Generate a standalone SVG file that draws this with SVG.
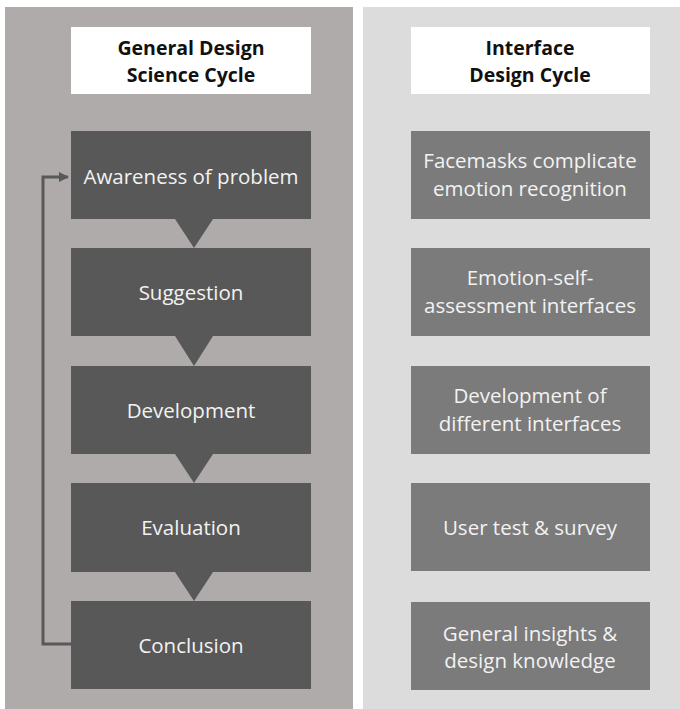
<svg xmlns="http://www.w3.org/2000/svg" width="680" height="709" viewBox="0 0 680 709">
  <style>
    .panel-l { fill: #aeabaa; }
    .panel-r { fill: #dcdcdc; }
    .title-box { fill: #ffffff; }
    .title { font-family: "Open Sans", "Liberation Sans", sans-serif; font-size: 19.5px; font-weight: bold; fill: #111111; text-anchor: middle; }
    .step { fill: #585858; }
    .phase { fill: #7b7b7b; }
    .label { font-family: "Open Sans", "Liberation Sans", sans-serif; font-size: 20.5px; fill: #f2f2f2; text-anchor: middle; }
    .loop { fill: none; stroke: #585858; stroke-width: 3; }
  </style>
  <defs>
    <marker id="head" viewBox="0 0 10 10" refX="9" refY="5" markerWidth="3.4" markerHeight="3.4" orient="auto" markerUnits="strokeWidth">
      <path d="M0,0 L10,5 L0,10 Z" fill="#585858"/>
    </marker>
  </defs>

  <rect width="680" height="709" fill="#ffffff"/>
  <rect class="panel-l" x="5" y="7" width="348" height="702"/>
  <rect class="panel-r" x="363" y="7" width="317" height="702"/>

  <!-- column headings -->
  <g id="title-general">
    <rect class="title-box" x="71" y="27" width="240" height="67"/>
    <text class="title" x="191" y="55">General Design</text>
    <text class="title" x="191" y="82">Science Cycle</text>
  </g>
  <g id="title-interface">
    <rect class="title-box" x="411" y="27" width="239" height="67"/>
    <text class="title" x="530" y="55">Interface</text>
    <text class="title" x="530" y="82">Design Cycle</text>
  </g>

  <!-- general design science cycle: boxes with pointer into the next step -->
  <g id="awareness">
    <path class="step" d="M71,131 H311 V219 H213 L194,248 L175,219 H71 Z"/>
    <text class="label" x="191" y="184">Awareness of problem</text>
  </g>
  <g id="suggestion">
    <path class="step" d="M71,248 H311 V336 H213 L194,366 L175,336 H71 Z"/>
    <text class="label" x="191" y="300">Suggestion</text>
  </g>
  <g id="development">
    <path class="step" d="M71,366 H311 V454 H213 L194,483 L175,454 H71 Z"/>
    <text class="label" x="191" y="418">Development</text>
  </g>
  <g id="evaluation">
    <path class="step" d="M71,483 H311 V572 H213 L194,601 L175,572 H71 Z"/>
    <text class="label" x="191" y="535">Evaluation</text>
  </g>
  <g id="conclusion">
    <rect class="step" x="71" y="601" width="240" height="88"/>
    <text class="label" x="191" y="653">Conclusion</text>
  </g>

  <!-- feedback loop from conclusion back to awareness -->
  <g id="connectors">
    <path class="loop" d="M71,644 H43 V177 H68" marker-end="url(#head)"/>
  </g>

  <!-- interface design cycle -->
  <g id="facemasks">
    <rect class="phase" x="411" y="131" width="239" height="88"/>
    <text class="label" x="530" y="168">Facemasks complicate</text>
    <text class="label" x="530" y="196">emotion recognition</text>
  </g>
  <g id="self-assessment">
    <rect class="phase" x="411" y="248" width="239" height="88"/>
    <text class="label" x="530" y="285">Emotion-self-</text>
    <text class="label" x="530" y="313">assessment interfaces</text>
  </g>
  <g id="interfaces">
    <rect class="phase" x="411" y="366" width="239" height="88"/>
    <text class="label" x="530" y="403">Development of</text>
    <text class="label" x="530" y="431">different interfaces</text>
  </g>
  <g id="user-test">
    <rect class="phase" x="411" y="483" width="239" height="88"/>
    <text class="label" x="530" y="535">User test &amp; survey</text>
  </g>
  <g id="insights">
    <rect class="phase" x="411" y="602" width="239" height="88"/>
    <text class="label" x="530" y="641">General insights &amp;</text>
    <text class="label" x="530" y="668">design knowledge</text>
  </g>
</svg>
